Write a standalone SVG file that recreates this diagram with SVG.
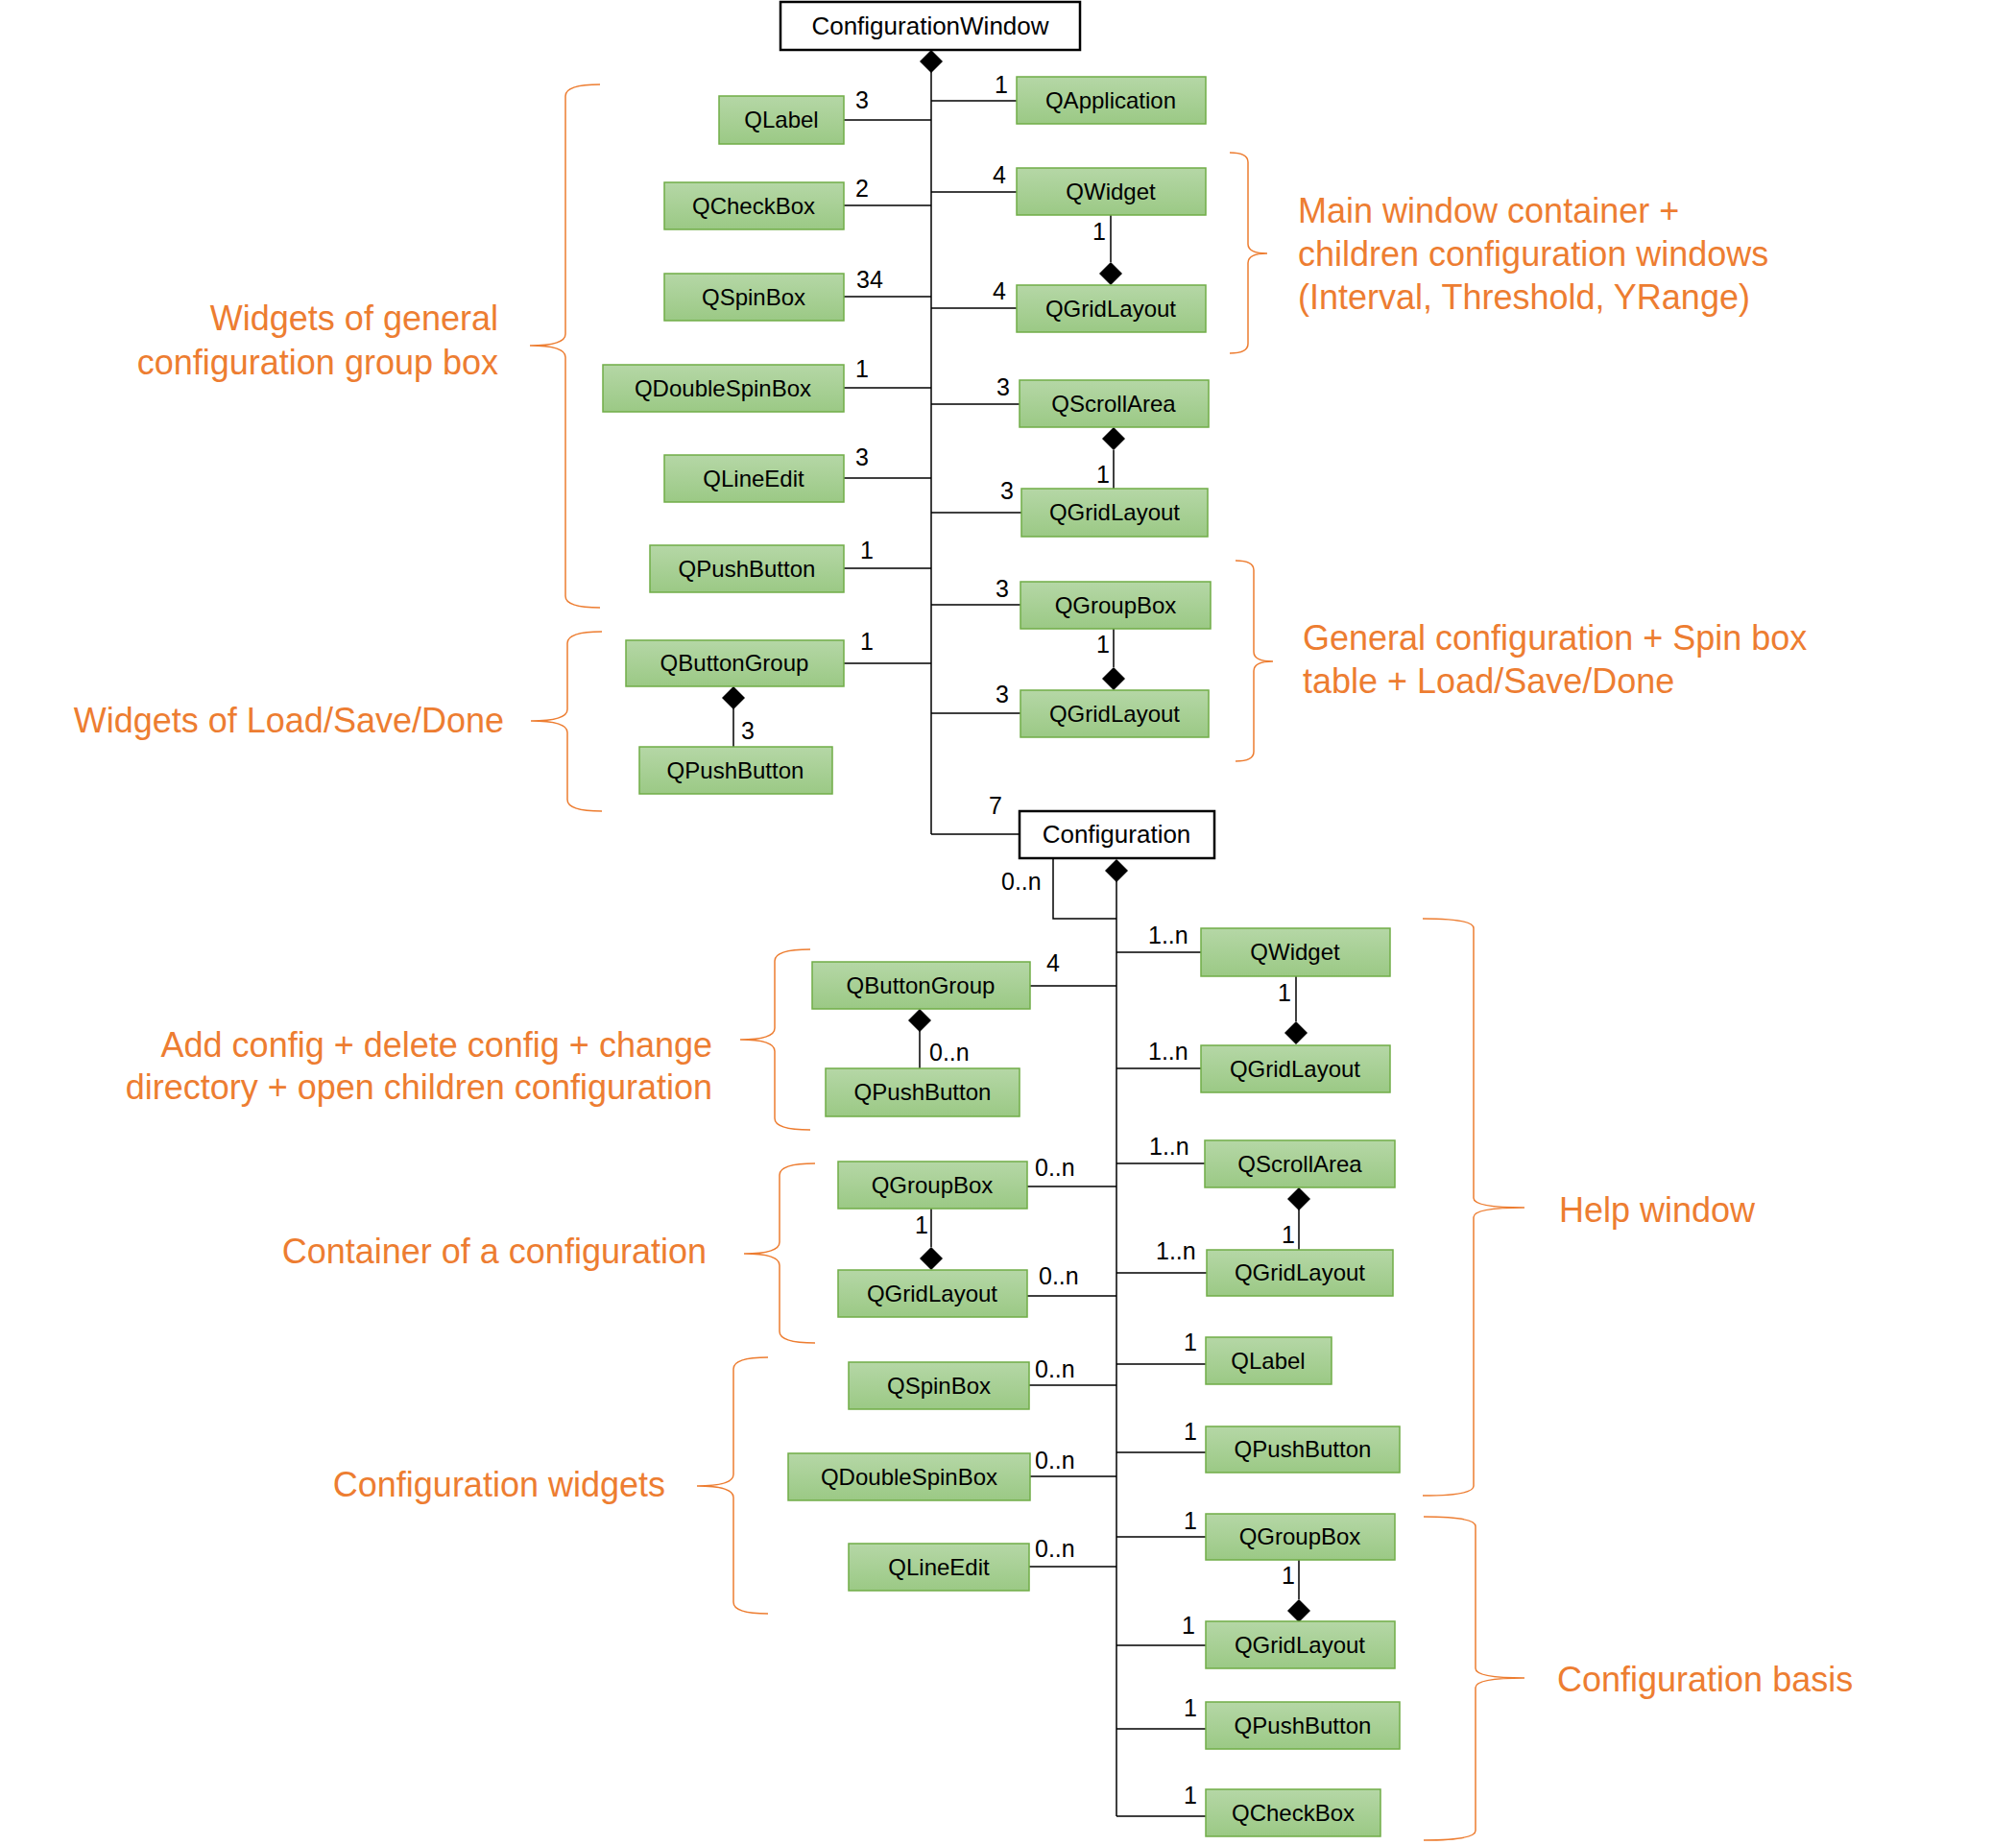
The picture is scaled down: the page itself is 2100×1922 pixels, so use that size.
<svg xmlns="http://www.w3.org/2000/svg" width="2100" height="1922" viewBox="0 0 2100 1922">
<defs>
<linearGradient id="g" x1="0" y1="0" x2="0" y2="1"><stop offset="0" stop-color="#b5d7a6"/><stop offset="1" stop-color="#9bc985"/></linearGradient>
<style>
.b{fill:url(#g);stroke:#70ad47;stroke-width:1.5}
.w{fill:#fff;stroke:#000;stroke-width:2.5}
.t{font-family:"Liberation Sans",Arial,sans-serif;font-size:24px;fill:#000;text-anchor:middle}
.tw{font-family:"Liberation Sans",Arial,sans-serif;font-size:26px;fill:#000;text-anchor:middle}
.m{font-family:"Liberation Sans",Arial,sans-serif;font-size:25px;fill:#000}
.c{text-anchor:middle}
.o{font-family:"Liberation Sans",Arial,sans-serif;font-size:36px;fill:#ed7d31}
.e{text-anchor:end}
.l{stroke:#000;stroke-width:1.5;fill:none}
.d{fill:#000}
.br{stroke:#ed7d31;stroke-width:1.5;fill:none}
</style>
</defs>
<rect width="2100" height="1922" fill="#fff"/>
<g id="connectors">
<path class="l" d="M970 75V869M879 125H970M879 214H970M879 309H970M879 404H970M879 498H970M879 592H970M879 691H970M970 105H1059M970 200H1059M970 321H1059M970 421H1062M970 534H1064M970 630H1063M970 743H1063M970 869H1062M1157 224V273M1160 469V509M1160 655V695M764 738V778"/>
<path class="l" d="M1163 918V1892M1097 894V957H1163M1163 992H1251M1163 1113H1251M1163 1212H1255M1163 1326H1257M1163 1421H1256M1163 1513H1256M1163 1601H1256M1163 1714H1256M1163 1801H1256M1163 1892H1256M1350 1017V1064M1353 1260V1302M1353 1625V1666M1073 1027H1163M958 1074V1113M1070 1236H1163M1070 1350H1163M1072 1443H1163M1073 1538H1163M1072 1632H1163M970 1259V1299"/>
<g class="d">
<polygon points="970,52 982,64 970,76 958,64"/>
<polygon points="1157,273 1169,285 1157,297 1145,285"/>
<polygon points="1160,445 1172,457 1160,469 1148,457"/>
<polygon points="1160,695 1172,707 1160,719 1148,707"/>
<polygon points="764,715 776,727 764,739 752,727"/>
<polygon points="1163,895 1175,907 1163,919 1151,907"/>
<polygon points="1350,1064 1362,1076 1350,1088 1338,1076"/>
<polygon points="958,1051 970,1063 958,1075 946,1063"/>
<polygon points="1353,1237 1365,1249 1353,1261 1341,1249"/>
<polygon points="970,1299 982,1311 970,1323 958,1311"/>
<polygon points="1353,1666 1365,1678 1353,1690 1341,1678"/>
</g>
<g class="m">
<text x="898" y="113" class="c">3</text><text x="1043" y="97" class="c">1</text>
<text x="898" y="205" class="c">2</text><text x="1041" y="191" class="c">4</text>
<text x="1145" y="250" class="c">1</text><text x="906" y="300" class="c">34</text>
<text x="1041" y="312" class="c">4</text><text x="898" y="393" class="c">1</text>
<text x="1045" y="412" class="c">3</text><text x="898" y="485" class="c">3</text>
<text x="1149" y="503" class="c">1</text><text x="1049" y="520" class="c">3</text>
<text x="903" y="582" class="c">1</text><text x="1044" y="622" class="c">3</text>
<text x="1149" y="680" class="c">1</text><text x="1044" y="732" class="c">3</text>
<text x="903" y="677" class="c">1</text><text x="779" y="770" class="c">3</text>
<text x="1037" y="848" class="c">7</text>
<text x="1043" y="927">0..n</text>
<text x="1196" y="983">1..n</text><text x="1338" y="1043" class="c">1</text>
<text x="1196" y="1104">1..n</text><text x="1197" y="1203">1..n</text>
<text x="1342" y="1295" class="c">1</text><text x="1204" y="1312">1..n</text>
<text x="1240" y="1407" class="c">1</text><text x="1240" y="1500" class="c">1</text>
<text x="1240" y="1593" class="c">1</text><text x="1342" y="1650" class="c">1</text>
<text x="1238" y="1702" class="c">1</text><text x="1240" y="1788" class="c">1</text>
<text x="1240" y="1879" class="c">1</text>
<text x="1097" y="1012" class="c">4</text><text x="968" y="1105">0..n</text>
<text x="1078" y="1225">0..n</text><text x="960" y="1285" class="c">1</text>
<text x="1082" y="1338">0..n</text><text x="1078" y="1435">0..n</text>
<text x="1078" y="1530">0..n</text><text x="1078" y="1622">0..n</text>
</g>
</g>
<g id="ConfigurationWindow"><rect class="w" x="813" y="2" width="312" height="50"/><text class="tw" x="969" y="36">ConfigurationWindow</text></g>
<g id="QLabel1"><rect class="b" x="749" y="100" width="130" height="50"/><text class="t" x="814" y="133">QLabel</text></g>
<g id="QApplication"><rect class="b" x="1059" y="80" width="197" height="49"/><text class="t" x="1157" y="113">QApplication</text></g>
<g id="QCheckBox1"><rect class="b" x="692" y="190" width="187" height="49"/><text class="t" x="785" y="223">QCheckBox</text></g>
<g id="QWidget1"><rect class="b" x="1059" y="175" width="197" height="49"/><text class="t" x="1157" y="208">QWidget</text></g>
<g id="QSpinBox1"><rect class="b" x="692" y="285" width="187" height="49"/><text class="t" x="785" y="318">QSpinBox</text></g>
<g id="QGridLayout1"><rect class="b" x="1059" y="297" width="197" height="49"/><text class="t" x="1157" y="330">QGridLayout</text></g>
<g id="QDoubleSpinBox1"><rect class="b" x="628" y="380" width="251" height="49"/><text class="t" x="753" y="413">QDoubleSpinBox</text></g>
<g id="QScrollArea1"><rect class="b" x="1062" y="396" width="197" height="49"/><text class="t" x="1160" y="429">QScrollArea</text></g>
<g id="QLineEdit1"><rect class="b" x="692" y="474" width="187" height="49"/><text class="t" x="785" y="507">QLineEdit</text></g>
<g id="QGridLayout2"><rect class="b" x="1064" y="509" width="194" height="50"/><text class="t" x="1161" y="542">QGridLayout</text></g>
<g id="QPushButton1"><rect class="b" x="677" y="568" width="202" height="49"/><text class="t" x="778" y="601">QPushButton</text></g>
<g id="QGroupBox1"><rect class="b" x="1063" y="606" width="198" height="49"/><text class="t" x="1162" y="639">QGroupBox</text></g>
<g id="QButtonGroup1"><rect class="b" x="652" y="667" width="227" height="48"/><text class="t" x="765" y="699">QButtonGroup</text></g>
<g id="QGridLayout3"><rect class="b" x="1063" y="719" width="196" height="49"/><text class="t" x="1161" y="752">QGridLayout</text></g>
<g id="QPushButton2"><rect class="b" x="666" y="778" width="201" height="49"/><text class="t" x="766" y="811">QPushButton</text></g>
<g id="Configuration"><rect class="w" x="1062" y="845" width="203" height="49"/><text class="tw" x="1163" y="878">Configuration</text></g>
<g id="QWidget2"><rect class="b" x="1251" y="967" width="197" height="50"/><text class="t" x="1349" y="1000">QWidget</text></g>
<g id="QGridLayout4"><rect class="b" x="1251" y="1089" width="197" height="49"/><text class="t" x="1349" y="1122">QGridLayout</text></g>
<g id="QScrollArea2"><rect class="b" x="1255" y="1188" width="198" height="49"/><text class="t" x="1354" y="1221">QScrollArea</text></g>
<g id="QGridLayout5"><rect class="b" x="1257" y="1302" width="194" height="48"/><text class="t" x="1354" y="1334">QGridLayout</text></g>
<g id="QLabel2"><rect class="b" x="1256" y="1393" width="131" height="49"/><text class="t" x="1321" y="1426">QLabel</text></g>
<g id="QPushButton3"><rect class="b" x="1256" y="1486" width="202" height="48"/><text class="t" x="1357" y="1518">QPushButton</text></g>
<g id="QGroupBox2"><rect class="b" x="1256" y="1577" width="197" height="48"/><text class="t" x="1354" y="1609">QGroupBox</text></g>
<g id="QGridLayout6"><rect class="b" x="1256" y="1689" width="197" height="49"/><text class="t" x="1354" y="1722">QGridLayout</text></g>
<g id="QPushButton4"><rect class="b" x="1256" y="1773" width="202" height="49"/><text class="t" x="1357" y="1806">QPushButton</text></g>
<g id="QCheckBox2"><rect class="b" x="1256" y="1864" width="182" height="49"/><text class="t" x="1347" y="1897">QCheckBox</text></g>
<g id="QButtonGroup2"><rect class="b" x="846" y="1002" width="227" height="49"/><text class="t" x="959" y="1035">QButtonGroup</text></g>
<g id="QPushButton5"><rect class="b" x="860" y="1113" width="202" height="50"/><text class="t" x="961" y="1146">QPushButton</text></g>
<g id="QGroupBox3"><rect class="b" x="873" y="1210" width="197" height="49"/><text class="t" x="971" y="1243">QGroupBox</text></g>
<g id="QGridLayout7"><rect class="b" x="873" y="1323" width="197" height="49"/><text class="t" x="971" y="1356">QGridLayout</text></g>
<g id="QSpinBox2"><rect class="b" x="884" y="1419" width="188" height="49"/><text class="t" x="978" y="1452">QSpinBox</text></g>
<g id="QDoubleSpinBox2"><rect class="b" x="821" y="1514" width="252" height="49"/><text class="t" x="947" y="1547">QDoubleSpinBox</text></g>
<g id="QLineEdit2"><rect class="b" x="884" y="1608" width="188" height="49"/><text class="t" x="978" y="1641">QLineEdit</text></g>
<g id="annotations">
<path class="br" d="M625 88Q589 88 589 100V348Q589 360 552 360Q589 360 589 372V621Q589 633 625 633"/>
<path class="br" d="M627 658Q591 658 591 670V739Q591 751 553 751Q591 751 591 763V833Q591 845 627 845"/>
<path class="br" d="M844 989Q807 989 807 1001V1071Q807 1083 771 1083Q807 1083 807 1095V1165Q807 1177 844 1177"/>
<path class="br" d="M849 1212Q812 1212 812 1224V1294Q812 1306 775 1306Q812 1306 812 1318V1387Q812 1399 849 1399"/>
<path class="br" d="M800 1414Q764 1414 764 1426V1536Q764 1548 726 1548Q764 1548 764 1560V1669Q764 1681 800 1681"/>
<path class="br" d="M1281 159Q1300 159 1300 169V254Q1300 264 1320 264Q1300 264 1300 274V358Q1300 368 1281 368"/>
<path class="br" d="M1287 584Q1306 584 1306 594V679Q1306 689 1326 689Q1306 689 1306 699V783Q1306 793 1287 793"/>
<path class="br" d="M1482 957Q1535 957 1535 967V1248Q1535 1258 1588 1258Q1535 1258 1535 1268V1548Q1535 1558 1482 1558"/>
<path class="br" d="M1483 1580Q1537 1580 1537 1590V1738Q1537 1748 1588 1748Q1537 1748 1537 1758V1907Q1537 1917 1483 1917"/>
<g class="o">
<text x="519" y="344" class="e">Widgets of general</text>
<text x="519" y="390" class="e">configuration group box</text>
<text x="525" y="763" class="e">Widgets of Load/Save/Done</text>
<text x="1352" y="232">Main window container +</text>
<text x="1352" y="277">children configuration windows</text>
<text x="1352" y="322">(Interval, Threshold, YRange)</text>
<text x="1357" y="677">General configuration + Spin box</text>
<text x="1357" y="722">table + Load/Save/Done</text>
<text x="742" y="1101" class="e">Add config + delete config + change</text>
<text x="742" y="1145" class="e">directory + open children configuration</text>
<text x="736" y="1316" class="e">Container of a configuration</text>
<text x="693" y="1559" class="e">Configuration widgets</text>
<text x="1624" y="1273">Help window</text>
<text x="1622" y="1762">Configuration basis</text>
</g>
</g>
</svg>
